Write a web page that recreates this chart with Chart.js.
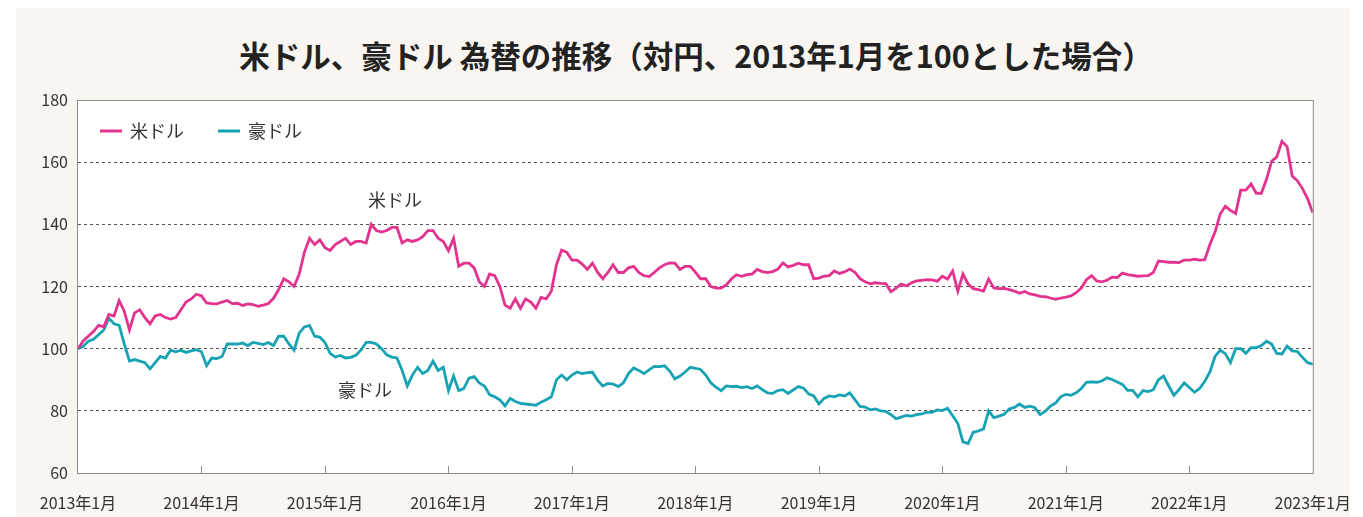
<!DOCTYPE html>
<html lang="ja">
<head>
<meta charset="utf-8">
<title>米ドル、豪ドル 為替の推移</title>
<script src="https://cdn.jsdelivr.net/npm/chart.js@4.4.1/dist/chart.umd.min.js"></script>
<style>
  html, body { margin: 0; padding: 0; background: #ffffff; }
  #card { position: absolute; left: 16px; top: 8px; width: 1334px; height: 509px; background: #f9f6f1; }
  h1 {
    position: absolute; left: 0; top: 33px; width: 1392px; margin: 0;
    text-align: center; line-height: 40px;
    font: 700 30.5px "Noto Sans CJK JP", "Noto Sans", sans-serif; color: #222;
  }
  #box { position: absolute; left: 0; top: 0; width: 1363px; height: 517px; }
</style>
</head>
<body>
<div id="card"></div>
<h1>米ドル、豪ドル 為替の推移（対円、2013年1月を100とした場合）</h1>
<div id="box"><canvas id="chart" width="1363" height="517"></canvas></div>
<script>
// half-month steps since 2013年1月 (0 .. 120 months)
const halfMonths = Array.from({ length: 241 }, (_, i) => i / 2);

// 米ドル (2013年1月 = 100), two readings per month
const usd = [
  100, 102.5, 104, 105.5, 107.5, 107, 111, 110.5, 115.5, 112, 106, 111.5, 112.5, 110, 108, 110.5, 111, 110, 109.5, 110, 112.5, 115, 116, 117.5,
  117, 114.7, 114.5, 114.4, 115, 115.5, 114.5, 114.6, 113.9, 114.4, 114.2, 113.6, 114, 114.5, 116.2, 119, 122.5, 121.5, 120, 124, 131, 135.5, 133.5, 135,
  132.5, 131.6, 133.5, 134.5, 135.5, 133.5, 134.5, 134.5, 134, 140, 138, 137.5, 138, 139, 139, 134, 135, 134.5, 135, 136, 138, 138, 135.5, 134.5,
  131.5, 135.5, 126.5, 127.5, 127.5, 126, 121.5, 120, 124, 123.5, 120, 114, 113, 116, 113, 116, 115, 113, 116.5, 116, 118.5, 127, 131.7, 131,
  128.5, 128.5, 127.2, 125.5, 127.5, 124.5, 122.5, 124.5, 127, 124.5, 124.5, 126, 126.5, 124.5, 123.5, 123.2, 124.5, 126, 127, 127.6, 127.5, 125.5, 126.5, 126.5,
  124.6, 122.5, 122.5, 120, 119.5, 119.5, 120.5, 122.4, 123.8, 123.3, 123.8, 124, 125.5, 124.8, 124.5, 124.8, 125.5, 127.6, 126.3, 126.8, 127.5, 127, 127, 122.5,
  122.7, 123.3, 123.5, 125, 124.2, 124.7, 125.6, 124.6, 122.5, 121.5, 120.9, 121.2, 121, 120.9, 118.3, 119.5, 120.8, 120.2, 121.2, 121.8, 122, 122.2, 122.1, 121.7,
  123.3, 122.4, 125, 118.5, 124, 120.8, 119.3, 119, 118.5, 122.4, 119.5, 119.3, 119.4, 119, 118.5, 117.8, 118.4, 117.6, 117.3, 116.8, 116.7, 116.3, 115.9, 116.3,
  116.6, 117, 118, 119.5, 122.2, 123.5, 121.8, 121.5, 122, 123, 122.9, 124.3, 123.8, 123.6, 123.3, 123.4, 123.5, 124.5, 128.2, 128, 127.8, 127.8, 127.7, 128.5,
  128.5, 128.8, 128.5, 128.6, 133.5, 137.5, 143.3, 145.8, 144.5, 143.5, 151, 151, 153, 150, 150, 154.5, 160.3, 161.7, 166.7, 165, 155.5, 154, 151.5, 148.2,
  143.7
];

// 豪ドル (2013年1月 = 100)
const aud = [
  100, 100.7, 102.4, 103, 104.5, 106, 109.8, 108, 107.5, 101.5, 96, 96.5, 96, 95.5, 93.5, 95.5, 97.5, 97, 99.5, 99, 99.5, 98.8, 99.3, 99.7,
  99, 94.5, 97, 96.8, 97.5, 101.5, 101.5, 101.5, 101.8, 101, 102, 101.7, 101.3, 102, 101, 104, 104, 101.5, 99.5, 105, 107, 107.5, 104, 103.7,
  102, 98.5, 97.3, 97.8, 97, 97.2, 97.9, 99.5, 102, 102, 101.5, 100, 98, 97.3, 97, 93, 88, 91.5, 94, 92, 93, 96, 93, 94,
  86.5, 91.2, 86.5, 87.2, 90.5, 91, 89, 88, 85.2, 84.5, 83.5, 81.6, 84, 83, 82.4, 82.2, 82, 81.8, 82.8, 83.6, 84.5, 90, 91.5, 90,
  91.5, 92.5, 92, 92.3, 92.4, 89.8, 88, 88.8, 88.6, 87.8, 89, 92, 93.8, 93, 92, 93.2, 94.3, 94.2, 94.5, 92.8, 90.3, 91.2, 92.5, 94,
  93.7, 93.3, 91.5, 89, 87.6, 86.5, 88, 87.8, 87.9, 87.5, 87.8, 87.2, 88, 86.8, 85.8, 85.6, 86.5, 86.8, 85.6, 86.7, 87.8, 87.3, 85.5, 84.8,
  82.2, 84, 84.8, 84.5, 85.1, 84.8, 85.8, 83.6, 81.4, 81.2, 80.3, 80.6, 80, 79.8, 78.8, 77.5, 78, 78.5, 78.3, 78.8, 79, 79.6, 79.5, 80.3,
  80.1, 80.8, 78.4, 76, 70, 69.5, 73.1, 73.5, 74.2, 80, 77.8, 78.3, 78.9, 80.6, 81.1, 82.2, 81.1, 81.5, 81, 78.8, 79.9, 81.5, 82.5, 84.5,
  85.3, 85, 85.8, 87.2, 89.2, 89.3, 89.2, 89.6, 90.6, 90.1, 89.3, 88.5, 86.6, 86.6, 84.5, 86.5, 86.2, 86.8, 90, 91.2, 88, 85, 86.8, 89,
  87.5, 86, 87.2, 89.5, 92.5, 97.5, 99.5, 98.4, 95.5, 100, 100, 98.5, 100.3, 100.3, 101, 102.4, 101.5, 98.5, 98.3, 100.8, 99.3, 99.1, 97.2, 95.5,
  95
];

const seriesNames = ['米ドル', '豪ドル'];
const seriesColors = ['#e2338e', '#17a3b3'];
const yTicks = [60, 80, 100, 120, 140, 160, 180];

// in-chart labels next to each line (month, value)
const lineNotes = [
  { text: '米ドル', month: 30.8, value: 147.8 },
  { text: '豪ドル', month: 27.9, value: 86.7 }
];

const FONT = '"Noto Sans CJK JP", "Noto Sans", sans-serif';

const framePlugin = {
  id: 'frame',
  beforeDraw(chart) {
    const { ctx, chartArea: a } = chart;
    ctx.save();
    ctx.fillStyle = '#ffffff';
    ctx.fillRect(a.left, a.top, a.right - a.left, a.bottom - a.top);
    ctx.restore();
  },
  afterDraw(chart) {
    const { ctx, chartArea: a, scales } = chart;
    ctx.save();
    // frame
    ctx.strokeStyle = '#8c8c8c';
    ctx.lineWidth = 1;
    ctx.strokeRect(a.left - 0.5, a.top + 0.5, a.right - a.left + 1, a.bottom - a.top);
    // year ticks pointing up from the bottom axis
    scales.x.ticks.forEach(t => {
      if (t.value <= 0 || t.value >= 120) return;
      const px = Math.round(scales.x.getPixelForValue(t.value)) + 0.5;
      ctx.beginPath();
      ctx.moveTo(px, a.bottom);
      ctx.lineTo(px, a.bottom - 7);
      ctx.stroke();
    });
    // legend, top left inside the plot
    ctx.font = '18px ' + FONT;
    ctx.textBaseline = 'middle';
    let x = a.left + 22;
    const y = a.top + 31;
    chart.data.datasets.forEach(ds => {
      ctx.strokeStyle = ds.borderColor;
      ctx.lineWidth = 3;
      ctx.beginPath();
      ctx.moveTo(x, y);
      ctx.lineTo(x + 22, y);
      ctx.stroke();
      ctx.fillStyle = '#333';
      ctx.textAlign = 'left';
      ctx.fillText(ds.label, x + 30, y);
      x += 30 + ctx.measureText(ds.label).width + 34;
    });
    // line notes
    ctx.textAlign = 'center';
    lineNotes.forEach(n => {
      ctx.fillText(n.text, scales.x.getPixelForValue(n.month), scales.y.getPixelForValue(n.value));
    });
    ctx.restore();
  }
};

new Chart(document.getElementById('chart'), {
  type: 'line',
  data: {
    datasets: [usd, aud].map((vals, k) => ({
      label: seriesNames[k],
      data: halfMonths.map((m, i) => ({ x: m, y: vals[i] })),
      borderColor: seriesColors[k],
      backgroundColor: seriesColors[k],
      borderWidth: 2.8,
      pointRadius: 0,
      tension: 0,
      fill: false
    }))
  },
  options: {
    responsive: false,
    animation: false,
    layout: { padding: { top: 100, right: 49, left: 0, bottom: 0 } },
    plugins: {
      legend: { display: false },
      title: { display: false },
      tooltip: { enabled: false }
    },
    scales: {
      x: {
        type: 'linear',
        min: 0,
        max: 120,
        afterFit: s => { s.height = 44; },
        grid: { display: false },
        border: { display: false },
        ticks: {
          stepSize: 12,
          autoSkip: false,
          maxRotation: 0,
          padding: 12,
          color: '#333',
          font: { family: FONT, size: 16 },
          callback: v => (2013 + v / 12) + '年1月'
        }
      },
      y: {
        min: 60,
        max: 180,
        afterFit: s => { s.width = 78; },
        afterBuildTicks: s => { s.ticks = yTicks.map(v => ({ value: v })); },
        grid: {
          drawTicks: false,
          lineWidth: 1,
          color: c => (c.tick && c.tick.value > 60 && c.tick.value < 180) ? '#555' : 'rgba(0,0,0,0)'
        },
        border: { display: false, dash: [3, 3] },
        ticks: {
          padding: 10,
          color: '#333',
          font: { family: FONT, size: 16 }
        }
      }
    }
  },
  plugins: [framePlugin]
});
</script>
</body>
</html>
